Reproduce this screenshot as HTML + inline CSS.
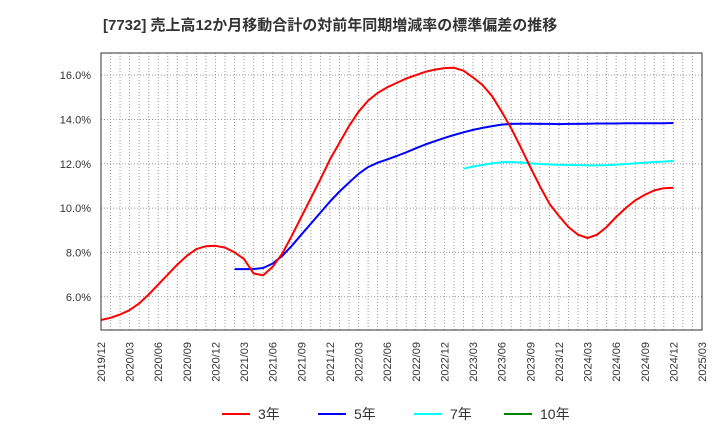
<!DOCTYPE html>
<html><head><meta charset="utf-8"><style>
body{margin:0;background:#fff;}
svg{display:block;font-family:"Liberation Sans","Noto Sans CJK JP",sans-serif;}
</style></head><body>
<svg id="chart" width="720" height="440" xmlns="http://www.w3.org/2000/svg">
<text x="103" y="30" font-size="15" font-weight="bold" fill="#333">[7732]  売上高12か月移動合計の対前年同期増減率の標準偏差の推移</text>
<g id="grid"></g>
<g id="series"></g>
<rect x="101" y="53" width="601" height="277" fill="none" stroke="#333" stroke-width="1"/>
<g id="yticks"></g>
<g id="xticks"></g>
<g id="legend"></g>
</svg>
<script>
const xTickLabels=["2019/12","2020/03","2020/06","2020/09","2020/12","2021/03","2021/06","2021/09","2021/12","2022/03","2022/06","2022/09","2022/12","2023/03","2023/06","2023/09","2023/12","2024/03","2024/06","2024/09","2024/12","2025/03"];
const yTickValues=[6,8,10,12,14,16];
const y3Start=0;
const y3=[4.95,5.05,5.2,5.4,5.7,6.1,6.55,7.0,7.45,7.85,8.15,8.28,8.3,8.22,8.0,7.7,7.05,6.97,7.35,7.95,8.75,9.6,10.45,11.3,12.2,12.95,13.7,14.35,14.85,15.2,15.45,15.65,15.85,16.0,16.15,16.25,16.32,16.33,16.2,15.9,15.55,15.05,14.35,13.6,12.75,11.85,11.0,10.2,9.65,9.15,8.8,8.65,8.8,9.15,9.6,10.0,10.35,10.6,10.8,10.9,10.92];
const y5Start=14;
const y5=[7.25,7.25,7.25,7.3,7.5,7.85,8.3,8.8,9.3,9.8,10.3,10.75,11.15,11.55,11.85,12.05,12.2,12.35,12.52,12.7,12.87,13.02,13.17,13.3,13.42,13.53,13.62,13.7,13.77,13.8,13.81,13.81,13.8,13.8,13.79,13.8,13.8,13.81,13.82,13.82,13.82,13.83,13.83,13.83,13.83,13.83,13.84];
const y7Start=38;
const y7=[11.78,11.88,11.95,12.02,12.07,12.08,12.06,12.02,11.99,11.97,11.96,11.95,11.94,11.93,11.93,11.94,11.96,11.99,12.02,12.05,12.08,12.1,12.13];
const y10Start=0;
const y10=[];
const X0=101,X1=702,Y0=330,Y1=53,nMonths=63,ymin=4.5,ymax=17;
const xs=i=>X0+(X1-X0)*i/nMonths;
const ys=v=>Y0-(Y0-Y1)*(v-ymin)/(ymax-ymin);
const NS="http://www.w3.org/2000/svg";
function mk(t,a,p){const e=document.createElementNS(NS,t);for(const k in a)e.setAttribute(k,a[k]);p.appendChild(e);return e;}
const grid=document.getElementById('grid');
for(let i=1;i<nMonths;i++){
 const l=mk('line',{x1:xs(i),x2:xs(i),y1:Y1,y2:Y0,stroke:'#999','stroke-width':1,'stroke-dasharray':'1,2'},grid);
 
 
}
const yt=document.getElementById('yticks');
yTickValues.forEach(v=>{
 const g=mk('line',{x1:X0,x2:X1,y1:ys(v),y2:ys(v),stroke:'#999','stroke-width':1,'stroke-dasharray':'1,2'},grid);
 
 
 const t=mk('text',{x:91,y:ys(v)+4,'text-anchor':'end','font-size':11,fill:'#333'},yt);
 t.textContent=v.toFixed(1)+'%';
 
 
});
const xt=document.getElementById('xticks');
xTickLabels.forEach((s,i)=>{
 const x=xs(i*3);
 const t=mk('text',{x:0,y:0,transform:`translate(${x+4},342) rotate(-90)`,'text-anchor':'end','font-size':11,fill:'#333'},xt);
 t.textContent=s;
 
 
});
const ser=document.getElementById('series');
function line(vals,start,color,name){
 if(!vals.length)return;
 const d=vals.map((v,i)=>(i?'L':'M')+xs(start+i).toFixed(1)+','+ys(v).toFixed(1)).join('');
 const p=mk('path',{d:d,fill:'none',stroke:color,'stroke-width':2,'stroke-linejoin':'round'},ser);
 
 
}
line(y7,y7Start,'#00ffff','line-7yr');
line(y5,y5Start,'#0000ff','line-5yr');
line(y3,y3Start,'#ff0000','line-3yr');
line(y10,y10Start,'#008000','line-10yr');
const lg=document.getElementById('legend');
[['3年','#ff0000',222],['5年','#0000ff',318],['7年','#00ffff',414],['10年','#008000',504]].forEach(([s,c,x])=>{
 const g=mk('g',{},lg);
 
 
 mk('line',{x1:x,x2:x+28,y1:414,y2:414,stroke:c,'stroke-width':2},g);
 const t=mk('text',{x:x+36,y:419,'font-size':14,fill:'#333'},g);
 t.textContent=s;
});
</script>
</body></html>
